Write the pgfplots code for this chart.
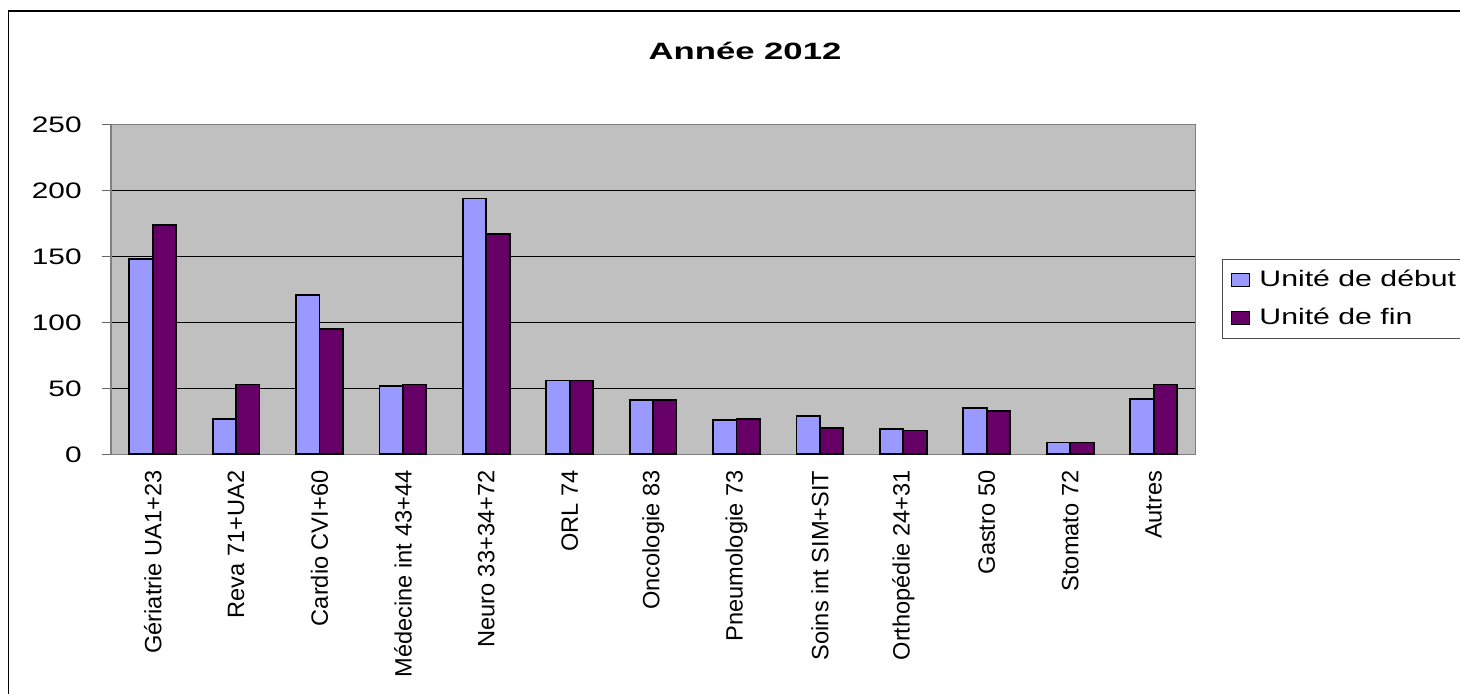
\documentclass[border=0pt]{standalone}
\usepackage{pgfplots}
\pgfplotsset{compat=1.18}
\usepackage{fontspec}
\setmainfont{Liberation Sans}
\usepackage{graphicx}
\definecolor{coldeb}{HTML}{9999FF}
\definecolor{colfin}{HTML}{660066}
\definecolor{bggray}{HTML}{C0C0C0}
\begin{document}
\begin{tikzpicture}
\useasboundingbox (0,0) rectangle (730pt,347pt);
\draw[line width=0.8pt] (4.25pt,-1pt) -- (4.25pt,341.5pt) -- (731pt,341.5pt);
\begin{axis}[
  at={(55.5pt,119.85pt)}, anchor=south west, scale only axis,
  width=542.15pt, height=164.8pt,
  ybar=0pt, bar width=11.7pt,
  xmin=-0.5, xmax=12.5, ymin=0, ymax=250,
  tick pos=left,
  xtick={0,...,12},
  xticklabels={Gériatrie UA1+23, Reva 71+UA2, Cardio CVI+60, Médecine int 43+44, Neuro 33+34+72, ORL 74, Oncologie 83, Pneumologie 73, Soins int SIM+SIT, Orthopédie 24+31, Gastro 50, Stomato 72, Autres},
  xtick style={draw=none},
  xticklabel style={rotate=90, anchor=east, font=\fontsize{11.8pt}{12pt}\selectfont},
  extra x ticks={-0.5,0.5,...,12.5},
  extra x tick labels={},
  extra x tick style={grid=none, major tick length=3.4pt},
  ytick={0,50,...,200},
  extra y ticks={250}, extra y tick style={grid=none},
  ymajorgrids, grid style={black, line width=0.5pt},
  tick align=outside, major tick length=4.65pt,
  tick style={black!60, line width=0.5pt},
  axis line style={black!50, line width=0.6pt},
  axis background/.style={fill=bggray},
  yticklabel={\scalebox{1.33}[1]{\pgfmathprintnumber[assume math mode=true]{\tick}}},
  yticklabel style={font=\fontsize{11.2pt}{12pt}\selectfont},
  yticklabel shift=6.5pt,
  title={\scalebox{1.47}[1]{\bfseries Année 2012}},
  title style={at={(axis description cs:0.5847,1.188)}, anchor=center, font=\fontsize{11.8pt}{12pt}\selectfont},
  legend style={at={(axis description cs:1.0244,0.5925)}, anchor=north west, draw=black!70, line width=0.5pt, font=\fontsize{11.2pt}{12pt}\selectfont, inner xsep=4.5pt, inner ysep=3.5pt, row sep=5pt, cells={anchor=west}, nodes={inner xsep=4.5pt}},
]
\addplot[fill=coldeb, draw=black, line width=0.9pt,
  legend image code/.code={\draw[fill=coldeb, draw=black, line width=0.6pt] (0pt,-3.25pt) rectangle (9pt,3.25pt);}]
  coordinates {(0,148) (1,27) (2,121) (3,52) (4,194) (5,56) (6,41) (7,26) (8,29) (9,19) (10,35) (11,9) (12,42)};
\addlegendentry{\scalebox{1.35}[1]{Unité de début}}
\addplot[fill=colfin, draw=black, line width=0.9pt,
  legend image code/.code={\draw[fill=colfin, draw=black, line width=0.6pt] (0pt,-3.25pt) rectangle (9pt,3.25pt);}]
  coordinates {(0,174) (1,53) (2,95) (3,53) (4,167) (5,56) (6,41) (7,27) (8,20) (9,18) (10,33) (11,9) (12,53)};
\addlegendentry{\scalebox{1.35}[1]{Unité de fin}}
\end{axis}
\end{tikzpicture}
\end{document}
